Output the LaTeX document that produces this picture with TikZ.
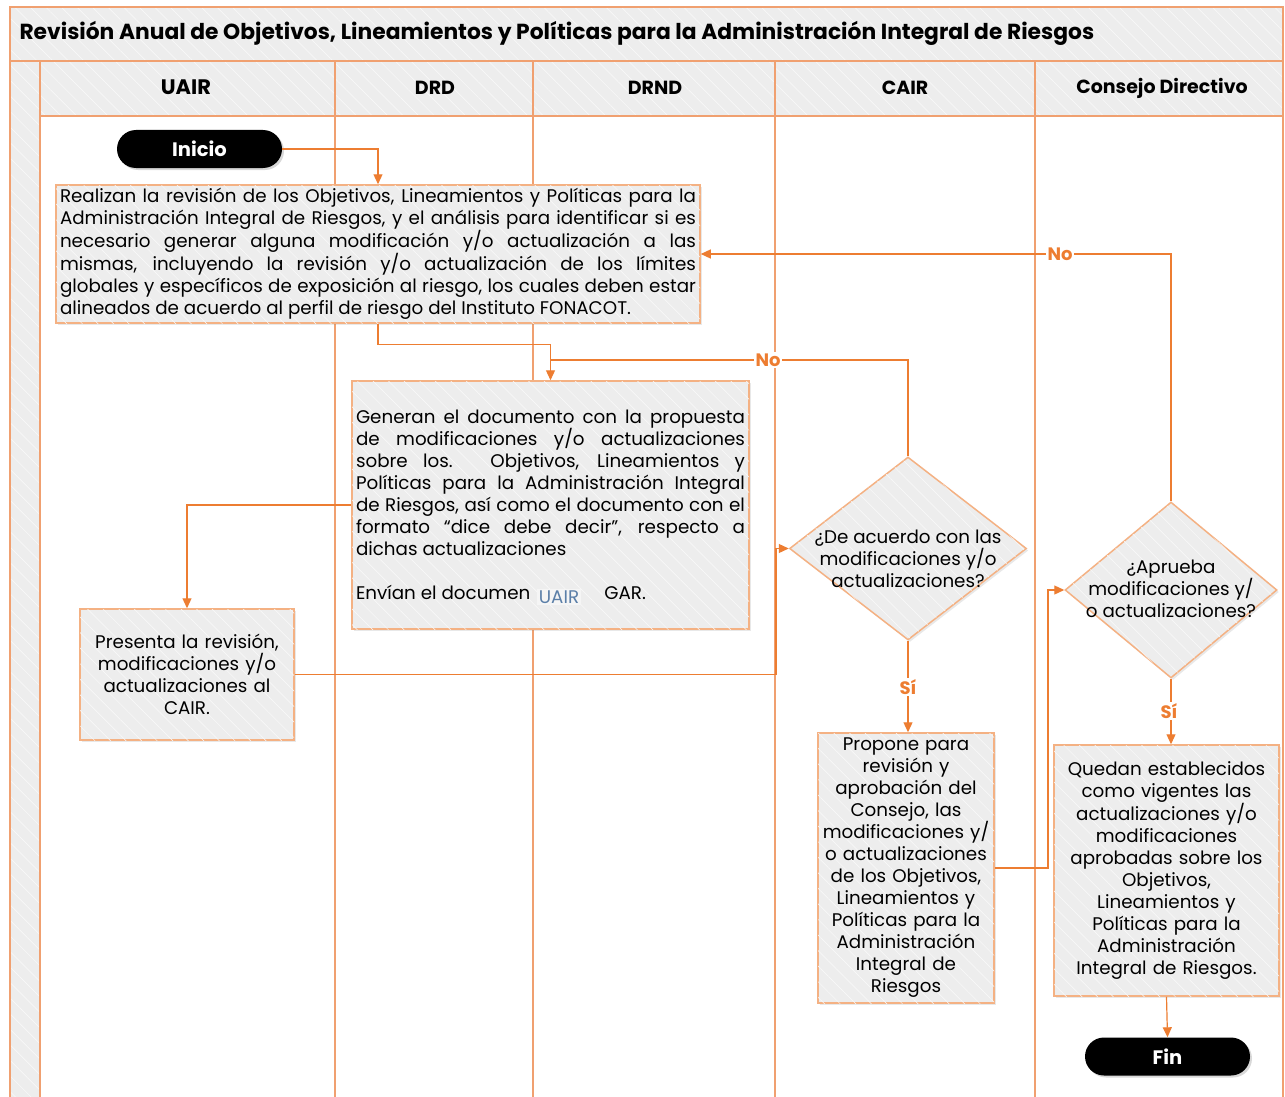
\documentclass[tikz,border=0pt]{standalone}
\usepackage{fontspec}
\setmainfont{Poppins}
\usetikzlibrary{shapes.geometric,arrows.meta,shadows,patterns.meta,calc}
\definecolor{lane}{HTML}{F0A070}
\definecolor{edgec}{HTML}{F4B183}
\definecolor{conn}{HTML}{ED7D31}
\definecolor{boxfill}{HTML}{EDEDED}
\definecolor{uairblue}{HTML}{5B7FA8}
\tikzset{
  hatch/.style={fill=boxfill, postaction={pattern={Lines[angle=-45,distance=11pt,line width=0.5pt]}, pattern color=white!70!boxfill}},
  lanel/.style={draw=lane, line width=1.6pt},
  procbox/.style={draw=edgec, line width=1.5pt, hatch, drop shadow={shadow xshift=2pt, shadow yshift=-2pt, opacity=0.18},
    font=\fontsize{18.3}{22}\selectfont, inner xsep=4pt, inner ysep=2pt},
  dia/.style={diamond, draw=edgec, line width=1.5pt, hatch, inner sep=0pt, drop shadow={shadow xshift=2pt, shadow yshift=-2pt, opacity=0.18}},
  term/.style={rounded corners=19pt, fill=black, text=white, font=\bfseries\fontsize{19.5}{22}\selectfont,
    minimum width=165pt, minimum height=38pt, drop shadow={shadow xshift=2pt, shadow yshift=-2pt, opacity=0.3}},
  flow/.style={draw=conn, line width=1.2pt, -{Triangle[length=10pt,width=9pt]}},
  flowline/.style={draw=conn, line width=1.2pt},
  lab/.style={fill=white, text=conn, font=\bfseries\fontsize{18}{20}\selectfont, inner sep=1.5pt},
  hdr/.style={font=\bfseries\fontsize{19}{22}\selectfont},
}
\begin{document}
\begin{tikzpicture}[x=1pt,y=-1pt]
\useasboundingbox (0,0) rectangle (1285,1097);
\fill[white] (0,0) rectangle (1285,1097);
% swimlane frame
\path[hatch] (10,7) rectangle (1283,61);
\path[hatch] (10,61) rectangle (40,1097);
\path[hatch] (40,61) rectangle (1283,116);
\draw[lanel] (10,1097) -- (10,7) -- (1283,7) -- (1283,1097);
\draw[lanel] (10,61) -- (1283,61);
\draw[lanel] (40,116) -- (1283,116);
\foreach \xx in {40,335,533,775,1035}{\draw[lanel] (\xx,61) -- (\xx,1097);}
\node[anchor=west, font=\bfseries\fontsize{21.8}{24}\selectfont] (title) at (16,33) {Revisión Anual de Objetivos, Lineamientos y Políticas para la Administración Integral de Riesgos};
\node[hdr, font=\bfseries\fontsize{21}{22}\selectfont] (h1) at (186,87) {UAIR};
\node[hdr] (h2) at (435,88) {DRD};
\node[hdr] (h3) at (655,88) {DRND};
\node[hdr] (h4) at (905,88) {CAIR};
\node[hdr] (h5) at (1162,88) {Consejo Directivo};

% nodes
\node[term] (ini) at (199.5,149) {Inicio};
\node[procbox, text width=636pt, minimum height=138pt, align=justify] (boxA) at (378,254)
{Realizan la revisión de los Objetivos, Lineamientos y Políticas para la\linebreak
Administración Integral de Riesgos, y el análisis para identificar si es\linebreak
necesario generar alguna modificación y/o actualización a las\linebreak
mismas, incluyendo la revisión y/o actualización de los límites\linebreak
globales y específicos de exposición al riesgo, los cuales deben estar\linebreak
alineados de acuerdo al perfil de riesgo del Instituto FONACOT.};
\node[procbox, text width=389pt, minimum height=248pt, align=justify] (boxB) at (550.5,505)
{Generan el documento con la propuesta\linebreak
de modificaciones y/o actualizaciones\linebreak
sobre los. Objetivos, Lineamientos y\linebreak
Políticas para la Administración Integral\linebreak
de Riesgos, así como el documento con el\linebreak
formato “dice debe decir”, respecto a\linebreak
dichas actualizaciones\par\vspace{22pt}
Envían el documen\hspace{74pt}GAR.};
\node[fill=black!4, text=uairblue, font=\fontsize{18.3}{20}\selectfont, inner sep=2pt] (ovl) at (559,597) {UAIR};
\node[procbox, text width=206pt, minimum width=214pt, minimum height=131pt, align=center] (boxC) at (187,674.5)
{Presenta la revisión,\\ modificaciones y/o\\ actualizaciones al\\ CAIR.};
\node[dia, minimum width=237pt, minimum height=183pt] (d1) at (908,548.5) {};
\node[align=center, font=\fontsize{18.3}{22}\selectfont] (d1t) at (908,559) {¿De acuerdo con las\\ modificaciones y/o\\ actualizaciones?};
\node[procbox, text width=170pt, minimum width=176pt, minimum height=270pt, inner xsep=3pt, align=center] (boxE) at (906,868)
{Propone para\\ revisión y\\ aprobación del\\ Consejo, las\\ modificaciones y/\\ o actualizaciones\\ de los Objetivos,\\ Lineamientos y\\ Políticas para la\\ Administración\\ Integral de\\ Riesgos};
\node[dia, minimum width=212pt, minimum height=176pt] (d2) at (1171,590) {};
\node[align=center, font=\fontsize{18.3}{22}\selectfont] (d2t) at (1171,589) {¿Aprueba\\ modificaciones y/\\ o actualizaciones?};
\node[procbox, text width=217pt, minimum width=225pt, minimum height=251pt, align=center] (boxF) at (1166.5,870.5)
{Quedan establecidos\\ como vigentes las\\ actualizaciones y/o\\ modificaciones\\ aprobadas sobre los\\ Objetivos,\\ Lineamientos y\\ Políticas para la\\ Administración\\ Integral de Riesgos.};
\node[term] (fin) at (1167.5,1056.5) {Fin};

% connectors
\coordinate (m1) at (550,360);
\coordinate (c1) at (776,548.5);
\coordinate (c2) at (1048,590);
\draw[flow] (ini.east) -| (boxA.north);
\draw[flow] (boxA.south) -- ++(0,21) -| (boxB.north);
\draw[flowline] (d1.north) |- (m1);
\node[lab] (no1) at (768,360) {No};
\draw[flow] (d2.north) |- (boxA.east);
\node[lab] (no2) at (1060,254) {No};
\draw[flow] (boxB.west) -| (boxC.north);
\draw[flow] (boxC.east) -| (c1) -- (d1.west);
\draw[flow] (d1.south) -- (d1.south |- boxE.north);
\node[lab] (si1) at (908,687) {Sí};
\draw[flow] (boxE.east) -| (c2) -- (d2.west);
\draw[flow] (d2.south) -- (d2.south |- boxF.north);
\node[lab] (si2) at (1169,711) {Sí};
\draw[flow] (boxF.south) -- (fin.north);
\end{tikzpicture}
\end{document}
